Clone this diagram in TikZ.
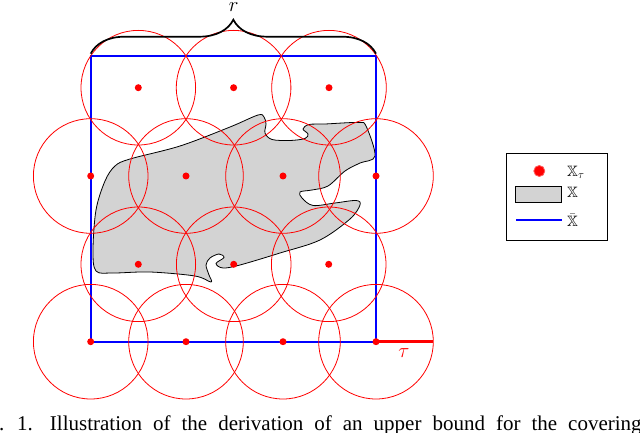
\documentclass[tikz,border=0pt]{standalone}
\usepackage{amssymb}
\usepackage{fontspec}
\newfontfamily\capfont{Liberation Serif}
\usetikzlibrary{decorations.pathreplacing}
\definecolor{shapegray}{RGB}{211,211,211}
\tikzset{
  cover/.style={draw=red, line width=0.8bp},
  dot/.style={circle, fill=red, inner sep=0pt, minimum size=7bp},
  bigtext/.style={font=\fontsize{20bp}{24bp}\selectfont, inner sep=0pt},
  legtext/.style={font=\fontsize{15bp}{18bp}\selectfont, inner sep=0pt, anchor=west},
}
\begin{document}
\begin{tikzpicture}[x=1bp,y=-1bp]
\useasboundingbox (0,0) rectangle (640,433);
\clip (0,0) rectangle (640,433);
% corners
\coordinate (tl) at (90.7,55.7);
\coordinate (tr) at (376,55.7);
\coordinate (bl) at (90.7,341.7);
\coordinate (br) at (376,341.7);
% set X
\draw[fill=shapegray, line width=0.8bp] plot[smooth cycle, tension=0.55] coordinates {
(130,159) (180,146) (230,127) (258,115) (264,117) (266,124) (265,133) (272,139.5)
(290,140.5) (305,138.5) (308,134) (303,129) (309,124.5) (325,124) (358,122.5) (366,126)
(375,156) (360,163) (345,171) (328,186) (312,190) (300,192) (302,198) (313,205.5)
(335,203) (356,200.5) (360,205) (350,219) (320,240) (280,253) (240,265) (223,268)
(216,263.5) (224,257.5) (219,254) (210,258) (206,265) (209,275) (211,282) (195,276)
(150,272) (113,273) (96,271) (93,250) (96,210) (105,181) (115,166)};
% square
\draw[blue, line width=2bp] (tl) -- (tr) -- (br) -- (bl) -- cycle;
% centres
\coordinate (a1) at (138.3,87.7);
\coordinate (a2) at (233.6,87.7);
\coordinate (a3) at (329,87.7);
\coordinate (b1) at (90.7,176);
\coordinate (b2) at (186,176);
\coordinate (b3) at (283,176);
\coordinate (b4) at (376,176);
\coordinate (c1) at (138.3,264.3);
\coordinate (c2) at (233.7,264.3);
\coordinate (c3) at (328.7,264.3);
\coordinate (d1) at (90.7,341.7);
\coordinate (d2) at (186,341.7);
\coordinate (d3) at (283,341.7);
\coordinate (d4) at (376,341.7);
\foreach \p in {a1,a2,a3,b1,b2,b3,b4,c1,c2,c3,d1,d2,d3,d4}
  \draw[cover] (\p) circle[radius=57.3];
% tau
\coordinate (tauend) at (433.3,341.7);
\draw[red, line width=3bp] (d4) -- (tauend);
\node[bigtext, text=red] (tau) at (404,353) {$\tau$};
\foreach \p in {a1,a2,a3,b1,b2,b3,b4,c1,c2,c3,d1,d2,d3,d4}
  \node[dot] (n\p) at (\p) {};
% brace
\draw[line width=1.7bp, decorate, decoration={brace, amplitude=34bp, raise=2bp}] (tl) -- (tr);
\node[bigtext] (rlab) at (233.6,7.5) {$r$};
% legend
\node[draw, line width=0.8bp, minimum width=101bp, minimum height=87bp, inner sep=0pt] (leg) at (556.5,196.5) {};
\node[circle, fill=red, draw={rgb,255:red,255;green,90;blue,90}, line width=0.8bp, inner sep=0pt, minimum size=11bp] (legdot) at (539.3,171) {};
\node[draw, fill=shapegray, line width=1bp, minimum width=46bp, minimum height=15.5bp, inner sep=0pt] (legset) at (538.8,194.5) {};
\coordinate (lb1) at (516,220);
\coordinate (lb2) at (562,220);
\draw[blue, line width=1.6bp] (lb1) -- (lb2);
\node[legtext] (l1) at (567,172.5) {$\mathbb{X}_\tau$};
\node[legtext] (l2) at (567,192.5) {$\mathbb{X}$};
\node[legtext, anchor=base west] (l3) at (567,226.5) {$\bar{\mathbb{X}}$};
% caption
\node[anchor=base west, inner sep=0pt, font=\capfont\fontsize{21bp}{25bp}\selectfont] (cap) at (-1,430)
  {\spaceskip=11bp\relax . 1.\hspace{17bp}Illustration of the derivation of an upper bound for the covering};
\end{tikzpicture}
\end{document}
